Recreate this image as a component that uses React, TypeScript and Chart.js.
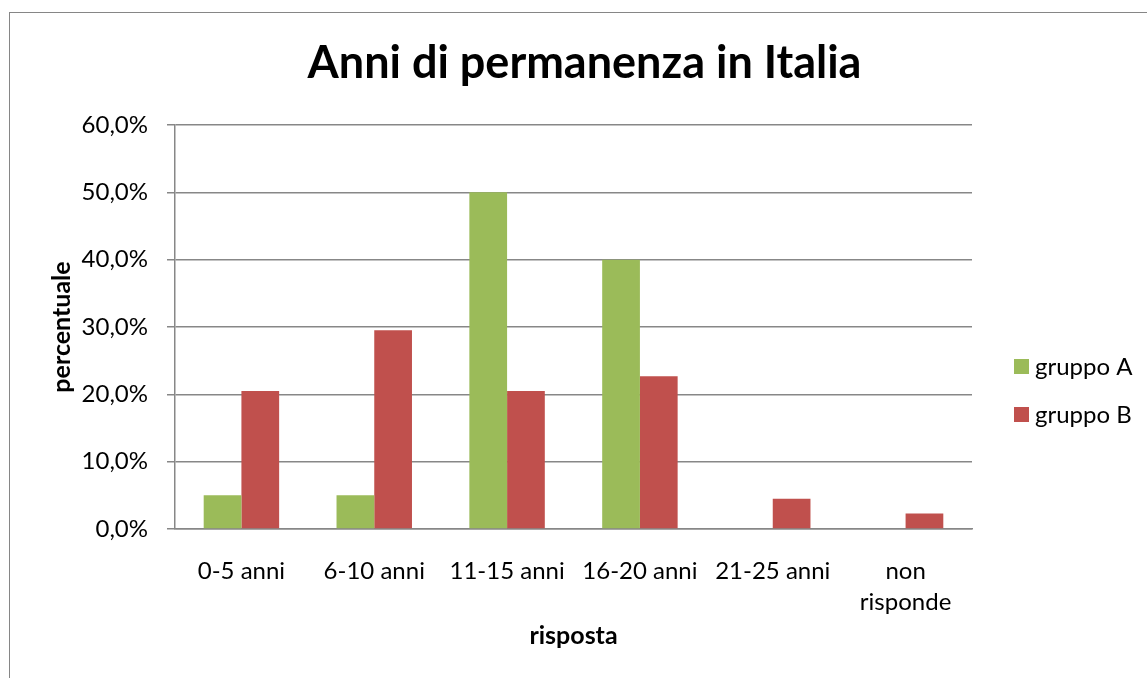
import React, { useEffect, useRef } from 'react';
import { Chart, registerables } from 'chart.js';

Chart.register(...registerables);

const chartTitle = 'Anni di permanenza in Italia';
const categories: (string | string[])[] = ['0-5 anni', '6-10 anni', '11-15 anni', '16-20 anni', '21-25 anni', ['non', 'risponde']];
const seriesNames = ['gruppo A', 'gruppo B'];
const gruppoA = [5, 5, 50, 40, 0, 0];
const gruppoB = [20.5, 29.5, 20.5, 22.7, 4.5, 2.3];
const yMin = 0;
const yMax = 60;
const yStep = 10;
const xTitle = 'risposta';
const yTitle = 'percentuale';

const FONT = 'Lato, "Open Sans", sans-serif';
const GRID = '#878787';

const framePlugin = {
  id: 'frame',
  beforeDraw(chart: any) {
    const ctx = chart.ctx;
    ctx.save();
    ctx.fillStyle = '#ffffff';
    ctx.fillRect(0, 0, chart.width, chart.height);
    ctx.strokeStyle = '#868686';
    ctx.lineWidth = 1;
    ctx.strokeRect(9.5, 12.5, chart.width + 50, chart.height + 50);
    ctx.restore();
  },
};

const legendPlugin = {
  id: 'sideLegend',
  afterDraw(chart: any) {
    const ctx = chart.ctx;
    const area = chart.chartArea;
    ctx.save();
    ctx.font = `24px ${FONT}`;
    ctx.textBaseline = 'alphabetic';
    ctx.textAlign = 'left';
    chart.data.datasets.forEach((ds: any, i: number) => {
      const bx = area.right + 42;
      const by = 359 + i * 48;
      ctx.fillStyle = ds.backgroundColor;
      ctx.fillRect(bx, by, 15, 15);
      ctx.fillStyle = '#000000';
      ctx.fillText(ds.label, bx + 21, by + 16);
    });
    ctx.restore();
  },
};

export default function App() {
  const ref = useRef<HTMLCanvasElement | null>(null);

  useEffect(() => {
    let chart: Chart | null = null;
    let cancelled = false;
    const make = () => {
      if (cancelled || !ref.current) return;
      chart = new Chart(ref.current, {
        type: 'bar',
        data: {
          labels: categories as any,
          datasets: [
            { label: seriesNames[0], data: gruppoA, backgroundColor: '#9BBB59', borderWidth: 0 },
            { label: seriesNames[1], data: gruppoB, backgroundColor: '#C0504D', borderWidth: 0 },
          ],
        },
        options: {
          responsive: false,
          animation: false,
          layout: { padding: { left: 22, right: 0, top: 0, bottom: 0 } },
          datasets: {
            bar: { categoryPercentage: 0.568, barPercentage: 1 },
          },
          plugins: {
            legend: { display: false },
            tooltip: { enabled: false },
            title: {
              display: true,
              text: chartTitle,
              color: '#000000',
              font: { family: FONT, size: 45, weight: 'bold', lineHeight: 1.2 },
              padding: { top: 36, bottom: 35 },
            },
          },
          scales: {
            x: {
              grid: { display: false },
              border: { display: true, color: GRID, width: 1.5 },
              ticks: {
                color: '#000000',
                font: { family: FONT, size: 24, lineHeight: 1.32 },
                padding: 18,
                maxRotation: 0,
                autoSkip: false,
              },
              title: {
                display: true,
                text: xTitle,
                color: '#000000',
                font: { family: FONT, size: 25, weight: 'bold', lineHeight: 1.2 },
                padding: { top: 0, bottom: 26.7 },
              },
              afterFit: (s: any) => { s.height = 149; },
            },
            y: {
              min: yMin,
              max: yMax,
              grid: { color: GRID, lineWidth: 1.5, drawTicks: true, tickLength: 8 },
              border: { display: true, color: GRID, width: 1.5 },
              ticks: {
                stepSize: yStep,
                color: '#000000',
                padding: 19,
                font: { family: FONT, size: 24 },
                callback: (v: any) => Number(v).toFixed(1).replace('.', ',') + '%',
              },
              title: {
                display: true,
                text: yTitle,
                color: '#000000',
                font: { family: FONT, size: 25, weight: 'bold', lineHeight: 1.2 },
                padding: { top: 24.5, bottom: 0 },
              },
              afterFit: (s: any) => { s.width = 153; },
            },
            yRight: {
              type: 'linear',
              position: 'right',
              display: true,
              grid: { display: false },
              border: { display: false },
              ticks: { display: false },
              afterFit: (s: any) => { s.width = 175; },
            },
          },
        } as any,
        plugins: [framePlugin, legendPlugin],
      });
    };
    const fonts = (document as any).fonts;
    if (fonts && fonts.load) {
      Promise.all([
        fonts.load(`24px Lato`),
        fonts.load(`bold 25px Lato`),
        fonts.load(`bold 45px Lato`),
      ]).then(make, make);
    } else {
      make();
    }
    return () => {
      cancelled = true;
      if (chart) chart.destroy();
    };
  }, []);

  return (
    <canvas
      ref={ref}
      width={1147}
      height={678}
      style={{ position: 'fixed', left: 0, top: 0, width: '1147px', height: '678px', display: 'block' }}
    />
  );
}
